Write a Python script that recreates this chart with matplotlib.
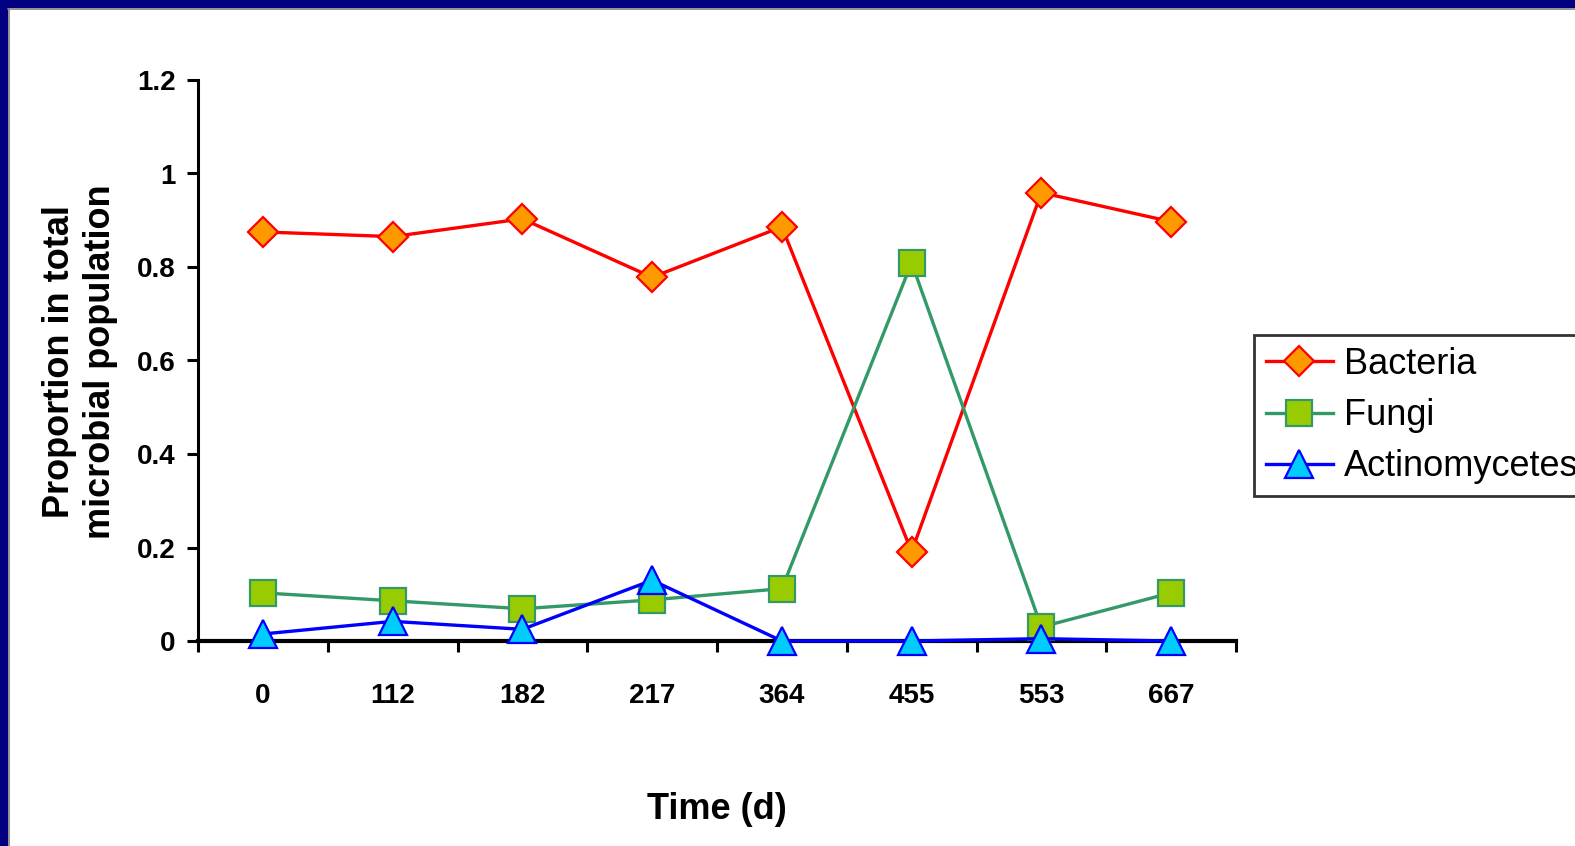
import matplotlib
matplotlib.use("Agg")
import matplotlib.pyplot as plt
from matplotlib.patches import Rectangle
from matplotlib.lines import Line2D

plt.rcParams['font.family'] = ['Liberation Sans', 'DejaVu Sans']

days = ["0", "112", "182", "217", "364", "455", "553", "667"]
bacteria = [0.875, 0.865, 0.903, 0.778, 0.886, 0.191, 0.959, 0.897]
fungi = [0.103, 0.086, 0.069, 0.088, 0.112, 0.809, 0.030, 0.103]
actino = [0.015, 0.042, 0.025, 0.130, 0.0, 0.0, 0.005, 0.0]
yticks = [0, 0.2, 0.4, 0.6, 0.8, 1, 1.2]
ytick_labels = ["0", "0.2", "0.4", "0.6", "0.8", "1", "1.2"]

W, H = 1575, 846
fig = plt.figure(figsize=(W / 100, H / 100), dpi=100)
fig.patch.set_facecolor("white")

# border (navy top and left)
navy = "#000080"
fig.add_artist(Rectangle((0, 1 - 8 / H), 1, 8 / H, transform=fig.transFigure,
                         facecolor=navy, edgecolor="none", zorder=0))
fig.add_artist(Rectangle((0, 0), 8 / W, 1, transform=fig.transFigure,
                         facecolor=navy, edgecolor="none", zorder=0))
fig.add_artist(Line2D([8 / W, 1], [1 - 9 / H, 1 - 9 / H], transform=fig.transFigure,
                      color="#808080", lw=1.2))
fig.add_artist(Line2D([9 / W, 9 / W], [0, 1 - 9 / H], transform=fig.transFigure,
                      color="#808080", lw=1.2))

left, right, top, bottom = 198, 1236, 80, 641
ax = fig.add_axes([left / W, 1 - bottom / H, (right - left) / W, (bottom - top) / H])
ax.set_facecolor("white")

x = list(range(len(days)))
ax.plot(x, bacteria, color="#FF0000", lw=2.4, marker="D", markersize=15,
        markerfacecolor="#FF9900", markeredgecolor="#FF0000", markeredgewidth=1.6,
        label="Bacteria", zorder=3, clip_on=False)
ax.plot(x, fungi, color="#339966", lw=2.4, marker="s", markersize=19,
        markerfacecolor="#99CC00", markeredgecolor="#339966", markeredgewidth=1.6,
        label="Fungi", zorder=3, clip_on=False)
ax.plot(x, actino, color="#0000FF", lw=2.4, marker="^", markersize=20,
        markerfacecolor="#00CCFF", markeredgecolor="#0000FF", markeredgewidth=1.6,
        label="Actinomycetes", zorder=4, clip_on=False)

ax.set_xlim(-0.5, len(days) - 0.5)
ax.set_ylim(0, 1.2)
ax.set_yticks(yticks)
ax.set_yticklabels(ytick_labels, fontsize=20, fontweight="bold")
ax.set_xticks(x)
ax.set_xticklabels(days, fontsize=20, fontweight="bold")
ax.set_xticks([i - 0.5 for i in range(len(days) + 1)], minor=True)
ax.tick_params(axis="x", which="major", length=0, pad=30)
ax.tick_params(axis="x", which="minor", length=8, width=2.2, direction="out")
ax.tick_params(axis="y", length=8, width=2.2, direction="out", pad=8)

for s in ["top", "right"]:
    ax.spines[s].set_visible(False)
ax.spines["left"].set_linewidth(2.2)
ax.spines["bottom"].set_linewidth(3)

ax.set_xlabel("Time (d)", fontsize=26, fontweight="bold", labelpad=60)
fig.text(80 / W, 1 - 362 / H, "Proportion in total\nmicrobial population",
         rotation=90, ha="center", va="center", fontsize=26, fontweight="bold",
         linespacing=1.2)

leg = fig.legend(loc="upper left", bbox_to_anchor=(1254 / W, 1 - 335 / H),
                 bbox_transform=fig.transFigure, fontsize=26, frameon=True,
                 fancybox=False, borderaxespad=0, numpoints=1, handlelength=1.85,
                 handletextpad=0.32, labelspacing=0.45, borderpad=0.33)
leg.get_frame().set_edgecolor("black")
leg.get_frame().set_linewidth(2)

fig.savefig("out.png", dpi=100, facecolor="white")
